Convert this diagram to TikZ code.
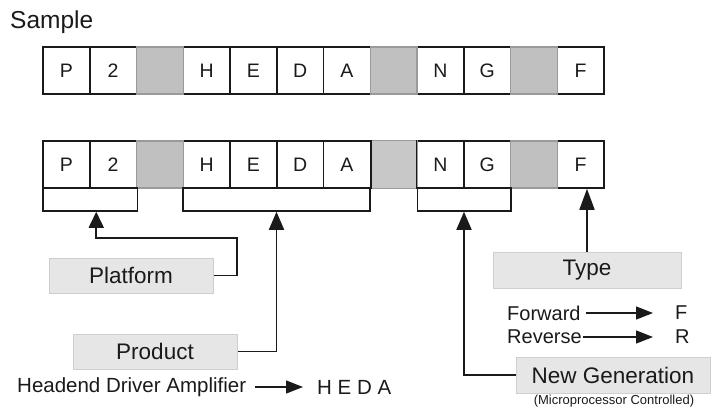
\documentclass[tikz,border=0pt]{standalone}
\usepackage{fontspec}
\setmainfont{Liberation Sans}
\usetikzlibrary{arrows.meta}
\definecolor{ink}{HTML}{1A1A1A}
\definecolor{slot}{HTML}{C0C0C0}
\definecolor{slotlite}{HTML}{C8C8C8}
\definecolor{slotedge}{HTML}{9A9A9A}
\definecolor{tag}{HTML}{E6E6E6}
\definecolor{tagedge}{HTML}{CFCFCF}
\newcommand{\fs}[1]{\fontsize{#1}{#1}\selectfont}
\tikzset{
  cell/.style={draw=ink, line width=1.5pt, minimum width=46.75pt, minimum height=47pt,
    inner sep=0pt, text=ink, font=\fs{19.5}},
  blank/.style={cell, draw=slotedge, fill=slot},
  brace/.style={draw=ink, line width=1.5pt, minimum height=23pt, inner sep=0pt},
  tagbox/.style={draw=tagedge, line width=1pt, fill=tag, minimum height=35pt,
    inner sep=0pt, text=ink, font=\fs{22.5}},
  lbl/.style={inner sep=0pt, text=ink},
  link/.style={draw=ink, line width=1.7pt},
  minor/.style={draw=ink, line width=1.3pt},
}
\begin{document}
\begin{tikzpicture}[x=1pt,y=-1pt]
\useasboundingbox (0,0) rectangle (713,416);

\node[lbl, anchor=west, font=\fs{24.5}] (title) at (10,22) {Sample};

% two rows of twelve code positions
\foreach \row/\yc in {1/70.5, 2/164.5}{
  \foreach \i/\t in {0/P,1/2,3/H,4/E,5/D,6/A,8/N,9/G,11/F}{
    \node[cell] (r\row c\i) at ({43+46.75*\i+23.375},\yc) {\t};
  }
  \foreach \i in {2,7,10}{
    \node[blank] (r\row c\i) at ({43+46.75*\i+23.375},\yc) {};
  }
}
% the middle spacer of the lower row is lighter and unframed
\node[blank, draw=none, fill=slotlite] at (r2c7) {};
\draw[ink, line width=1.5pt] (r2c6.north east) -- (r2c6.south east)
  (r2c8.north west) -- (r2c8.south west);

% groups under the second row
\node[brace, minimum width=94.5pt]  (b1) at (90.25,199.5) {};
\node[brace, minimum width=187pt]   (b2) at (276.5,199.5) {};
\node[brace, minimum width=93.5pt]  (b3) at (464,199.5) {};

% field labels
\node[tagbox, minimum width=164pt] (plat) at (131,275.5) {Platform};
\node[tagbox, minimum width=164pt] (prod) at (155,351.5) {Product};
\node[tagbox, minimum width=188pt, minimum height=36pt] (type) at (587,270) {Type};
\node[tagbox, minimum width=194pt, minimum height=36pt] (gen) at (613,375) {New Generation};
\node[lbl, font=\fs{13}, anchor=north] (micro) at (614,395) {(Microprocessor Controlled)};

% connectors to the groups
\coordinate (pbend) at (237,238);
\draw[link, -{Triangle[length=16pt,width=15pt]}] (plat.east) -| (pbend) -| ([xshift=6pt]b1.south);
\draw[link, -{Triangle[length=18pt,width=15pt]}] (prod.east) -| (b2.south);
\draw[link, -{Triangle[length=18pt,width=15pt]}] (gen.west) -| (b3.south);
\draw[link, -{Triangle[length=21pt,width=15pt]}] (type.north) -- (type.north |- r2c11.south);

% type codes
\node[lbl, anchor=west, font=\fs{20}] (fwd) at (507,313) {Forward};
\node[lbl, anchor=west, font=\fs{20}] (fcode) at (675,313) {F};
\node[lbl, anchor=west, font=\fs{20}] (rev) at (507,337) {Reverse};
\node[lbl, anchor=west, font=\fs{20}] (rcode) at (675,337) {R};
\draw[minor, -{Triangle[length=17pt,width=13pt]}, shorten <=5pt, shorten >=22pt] (fwd.east) -- (fcode.west);
\draw[minor, -{Triangle[length=17pt,width=13pt]}, shorten <=1pt, shorten >=22pt] (rev.east |- rcode.west) -- (rcode.west);

% product code
\node[lbl, anchor=west, font=\fs{20.5}] (hda) at (17,387) {Headend Driver Amplifier};
\node[lbl, anchor=west, font=\fs{20.5}] (heda) at (317,387) {H E D A};
\draw[minor, -{Triangle[length=17pt,width=13pt]}, shorten <=9pt, shorten >=14pt] (hda.east) -- (heda.west);
\end{tikzpicture}
\end{document}
